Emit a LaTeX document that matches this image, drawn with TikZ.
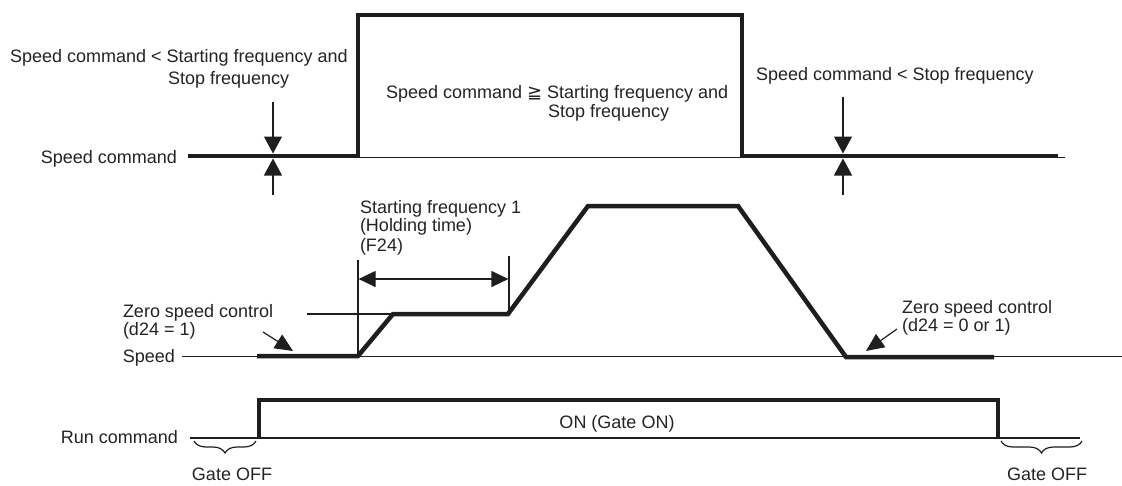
\documentclass[tikz,border=0pt]{standalone}
\usepackage{fontspec}
\setmainfont{Liberation Sans}
\newfontfamily\symfont{DejaVu Sans}
\usetikzlibrary{arrows.meta,decorations.pathreplacing}
\definecolor{linec}{RGB}{30,30,30}
\definecolor{textc}{RGB}{35,35,35}
\begin{document}
\begin{tikzpicture}[x=1pt,y=-1pt,
  thinline/.style={line width=1.3pt,draw=linec},
  wave/.style={line width=4.5pt,draw=linec},
  lbl/.style={inner sep=0pt,outer sep=0pt,font=\fontsize{18}{19.5}\selectfont,text=textc},
  tri/.style={-{Triangle[length=17pt,width=18pt]},line width=1.2pt,draw=linec},
  dbl/.style={{Triangle[length=17pt,width=16pt]}-{Triangle[length=17pt,width=16pt]},line width=1.2pt,draw=linec},
  zarrow/.style={-{Triangle[length=18pt,width=16pt]},line width=1.2pt,draw=linec},
  gbrace/.style={decorate,decoration={brace,mirror,amplitude=12pt},line width=1.2pt,draw=linec}]
\useasboundingbox (0,0) rectangle (1122,485);

% ---------- labels ----------
\node[lbl,anchor=base west] (t1a) at (10,62) {Speed command < Starting frequency and};
\node[lbl,anchor=base west] (t1b) at (168,84) {Stop frequency};
\node[lbl,anchor=base west] (t2a) at (386,98) {Speed command {\symfont ≧} Starting frequency and};
\node[lbl,anchor=base west] (t2b) at (548,117) {Stop frequency};
\node[lbl,anchor=base west] (t3) at (756,80) {Speed command < Stop frequency};
\node[lbl,anchor=base east] (lsc) at (177,163) {Speed command};
\node[lbl,anchor=base west] (sf1) at (360,213) {Starting frequency 1};
\node[lbl,anchor=base west] (sf2) at (360,231) {(Holding time)};
\node[lbl,anchor=base west] (sf3) at (360,251) {(F24)};
\node[lbl,anchor=base west] (zl1) at (123,317) {Zero speed control};
\node[lbl,anchor=base west] (zl2) at (123,335) {(d24 = 1)};
\node[lbl,anchor=base west] (zr1) at (902,313) {Zero speed control};
\node[lbl,anchor=base west] (zr2) at (902,331) {(d24 = 0 or 1)};
\node[lbl,anchor=base east] (lsp) at (175,362) {Speed};
\node[lbl,anchor=base east] (lrc) at (178,443) {Run command};
\node[lbl,anchor=base] (on) at (617,428) {ON (Gate ON)};
\node[lbl,anchor=base] (goff1) at (232,480) {Gate OFF};
\node[lbl,anchor=base] (goff2) at (1047,480) {Gate OFF};

% ---------- speed command row ----------
\draw[thinline] (188,157.5) -- (1065,157.5);
\draw[wave] (188,156) -- (358,156) -- (358,15) -- (742,15) -- (742,156) -- (1058,156);
\coordinate (a1s) at (273,102);
\coordinate (a1e) at (273,153.5);
\coordinate (a2s) at (273,195);
\coordinate (a2e) at (273,158.5);
\coordinate (a3s) at (843,97);
\coordinate (a3e) at (843,153.5);
\coordinate (a4s) at (843,195);
\coordinate (a4e) at (843,158.5);
\draw[tri] (a1s) -- (a1e);
\draw[tri] (a2s) -- (a2e);
\draw[tri] (a3s) -- (a3e);
\draw[tri] (a4s) -- (a4e);

% ---------- speed row ----------
\draw[thinline] (182,356.5) -- (1122,356.5);
\draw[thinline] (307,314) -- (393,314);
\draw[thinline] (358,260) -- (358,356);
\draw[thinline] (509,256) -- (509,314);
\draw[wave] (257,356) -- (358,356) -- (393,314) -- (508,314) -- (588,206) -- (738,206) -- (846,357) -- (994,357);
\coordinate (h1) at (358.6,279);
\coordinate (h2) at (508.4,279);
\draw[dbl] (h1) -- (h2);
\coordinate (zls) at (263,332);
\coordinate (zle) at (293,351);
\coordinate (zrs) at (897,329);
\coordinate (zre) at (866,351);
\draw[zarrow] (zls) -- (zle);
\draw[zarrow] (zrs) -- (zre);

% ---------- run command row ----------
\draw[thinline] (190,438) -- (1080,438);
\draw[wave] (259,438) -- (259,400) -- (998,400) -- (998,438);
\coordinate (b1a) at (194,441);
\coordinate (b1b) at (256,441);
\coordinate (b2a) at (1001,441);
\coordinate (b2b) at (1082,441);
\draw[gbrace] (b1a) -- (b1b);
\draw[gbrace] (b2a) -- (b2b);
\end{tikzpicture}
\end{document}
